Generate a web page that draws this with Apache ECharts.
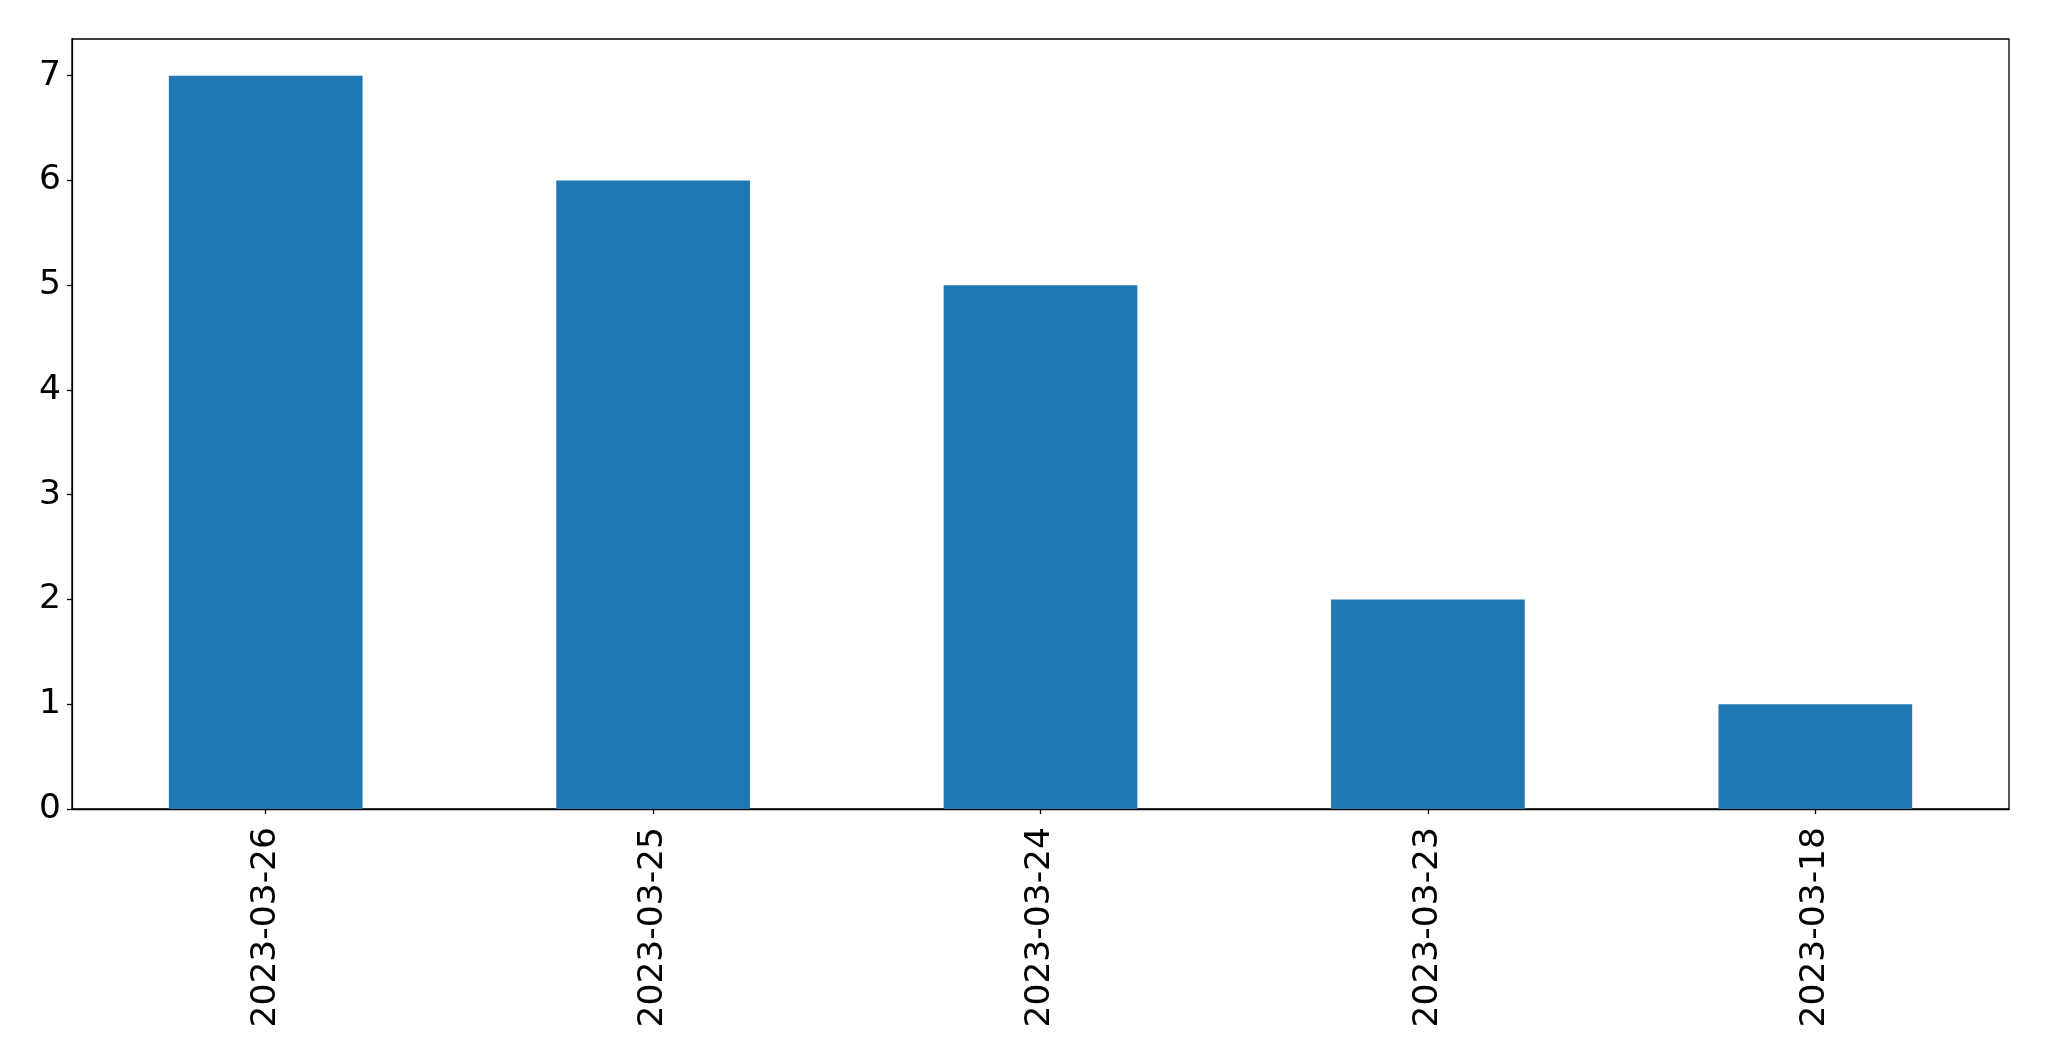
<!DOCTYPE html>
<html>
<head>
<meta charset="utf-8">
<script src="https://cdn.jsdelivr.net/npm/echarts@6/dist/echarts.min.js"></script>
<style>
html,body{margin:0;padding:0;background:#fff;}
#chart{width:2049px;height:1061px;}
</style>
</head>
<body>
<div id="chart"></div>
<script>
const categories = ['2023-03-26', '2023-03-25', '2023-03-24', '2023-03-23', '2023-03-18'];
const values = [7, 6, 5, 2, 1];
const yTicks = [0, 1, 2, 3, 4, 5, 6, 7];

const chart = echarts.init(document.getElementById('chart'), null, {renderer: 'canvas'});
const font = 'DejaVu Sans';
chart.setOption({
  animation: false,
  backgroundColor: '#fff',
  grid: {left: 72, top: 39, width: 1937, height: 770, show: true, borderColor: '#000', borderWidth: 1.3, containLabel: false},
  xAxis: {
    type: 'category',
    data: categories,
    axisLine: {show: true, lineStyle: {color: '#000', width: 1.3}},
    axisTick: {show: true, alignWithLabel: true, length: 5, lineStyle: {color: '#000', width: 1.3}},
    axisLabel: {rotate: 90, margin: 18, fontFamily: font, fontSize: 34.5, color: '#000', padding: [3, 0, 0, 0]},
    splitLine: {show: false}
  },
  yAxis: {
    type: 'value',
    min: 0,
    max: 7.35,
    interval: 1,
    axisLine: {show: true, lineStyle: {color: '#000', width: 1.3}},
    axisTick: {show: true, length: 5, lineStyle: {color: '#000', width: 1.3}},
    axisLabel: {
      margin: 11, fontFamily: font, fontSize: 34.5, color: '#000',
      padding: [6, 0, 0, 0],
      showMaxLabel: false,
      formatter: v => yTicks.includes(v) ? String(v) : ''
    },
    splitLine: {show: false}
  },
  series: [{
    type: 'bar',
    data: values,
    barWidth: '50%',
    itemStyle: {color: '#1f77b4'}
  }]
});
</script>
</body>
</html>
